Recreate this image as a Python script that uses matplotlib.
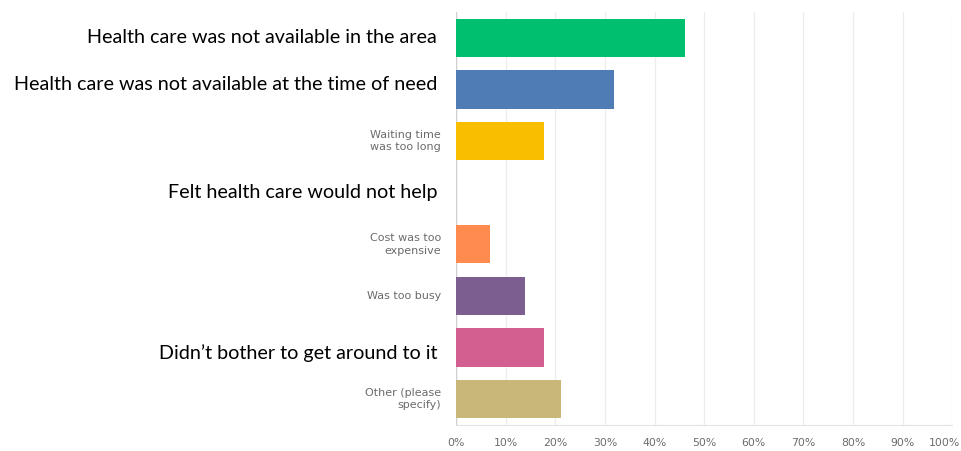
import matplotlib
matplotlib.use("Agg")
import matplotlib.pyplot as plt
import matplotlib.transforms as mtransforms

# answer choices, top to bottom
reasons = [
    "Health care was not available in the area",
    "Health care was not available at the time of need",
    "Waiting time\nwas too long",
    "Felt health care would not help",
    "Cost was too\nexpensive",
    "Was too busy",
    "Didn\u2019t bother to get around to it",
    "Other (please\nspecify)",
]
percent = [46.1, 31.9, 17.7, 0.0, 6.9, 14.0, 17.7, 21.1]
big_label = [True, True, False, True, False, False, True, False]
label_shift = [0.0, -0.1, 0.0, 0.0, 0.0, 0.0, 0.1, 0.0]
bar_colors = ["#00BF6F", "#507CB6", "#F9BE00", "#6BC8CD",
              "#FF8B4F", "#7D5E90", "#D25F90", "#C9B77A"]
ticks = [0, 10, 20, 30, 40, 50, 60, 70, 80, 90, 100]

fig = plt.figure(figsize=(9.61, 4.51), dpi=100)
ax = fig.add_axes([0.4745, 0.0576, 0.5165, 0.9158])

ypos = list(range(len(reasons)))
ax.barh(ypos, percent, height=0.74, color=bar_colors, zorder=3)

ax.set_xlim(0, 100)
ax.set_ylim(len(reasons) - 0.5, -0.5)
ax.set_xticks(ticks)
ax.set_xticklabels([f"{t}%" for t in ticks], fontsize=7.8, color="#6b6b6b",
                   family="DejaVu Sans")
ax.tick_params(axis="x", length=0, pad=9)
# keep the "100%" label inside the figure edge
last = ax.get_xticklabels()[-1]
last.set_ha("right")
last.set_transform(last.get_transform() +
                   mtransforms.ScaledTranslation(8 / 100, 0, fig.dpi_scale_trans))
ax.set_yticks([])
ax.grid(axis="x", color="#ededed", linewidth=0.9, zorder=0)
for side in ["top", "right", "left"]:
    ax.spines[side].set_visible(False)
ax.spines["bottom"].set_color("#e2e2e2")
ax.axvline(0, color="#d0d0d0", linewidth=1.0, zorder=2)

trans = mtransforms.blended_transform_factory(ax.transAxes, ax.transData)
for i, name in enumerate(reasons):
    if big_label[i]:
        ax.text(-0.038, i + label_shift[i], name, transform=trans,
                ha="right", va="center", fontsize=14.2, color="black",
                family="Lato")
    else:
        ax.text(-0.030, i, name, transform=trans, ha="right", va="center",
                fontsize=8, color="#6b6b6b", family="DejaVu Sans",
                linespacing=1.3)

fig.savefig("out.png", dpi=100)
